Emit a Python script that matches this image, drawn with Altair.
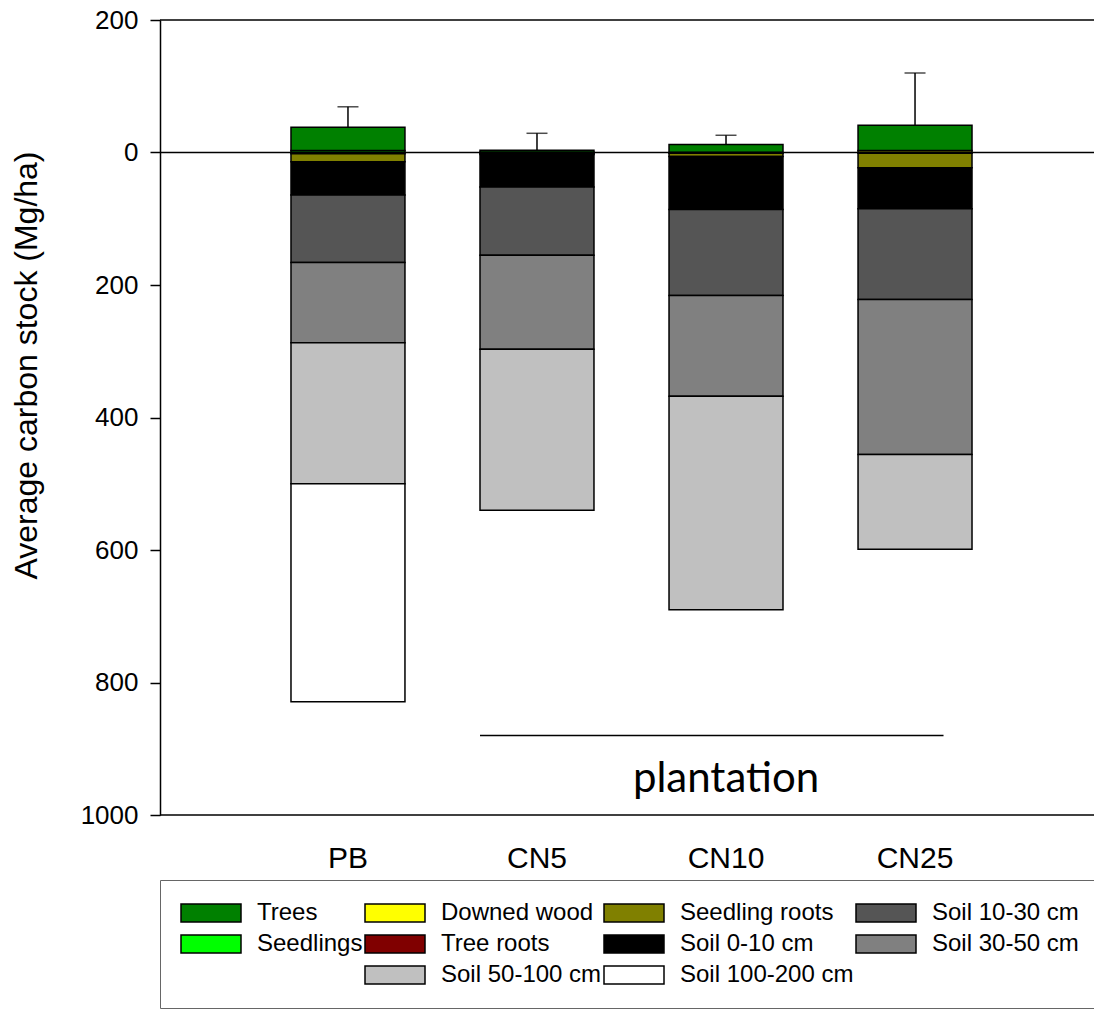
import altair as alt
import pandas as pd

categories = ["PB", "CN5", "CN10", "CN25"]
# above-ground pools (stacked upward from 0), bottom -> top
downed_wood = [0, 0.5, 0, 3]
seedlings = [3, 0, 0, 0]
trees = [35, 3, 12, 38]
# below-ground pools (stacked downward from 0), top -> bottom
tree_roots = [2, 1, 1, 1]
seedling_roots = [12, 2, 5, 22]
soil_0_10 = [50, 49, 80, 62]
soil_10_30 = [102, 103, 130, 137]
soil_30_50 = [121, 142, 152, 234]
soil_50_100 = [213, 243, 322, 143]
soil_100_200 = [329, 0, 0, 0]
# upper error of above-ground total
error_up = [31, 25.5, 14, 79]

y_ticks = [200, 0, -200, -400, -600, -800, -1000]

above = [("Downed wood", downed_wood), ("Seedlings", seedlings), ("Trees", trees)]
below = [("Tree roots", tree_roots), ("Seedling roots", seedling_roots),
         ("Soil 0-10 cm", soil_0_10), ("Soil 10-30 cm", soil_10_30),
         ("Soil 30-50 cm", soil_30_50), ("Soil 50-100 cm", soil_50_100),
         ("Soil 100-200 cm", soil_100_200)]

rows = []
err_rows = []
for i, c in enumerate(categories):
    acc = 0.0
    for name, vals in above:
        v = vals[i]
        if v > 0:
            rows.append({"cat": c, "comp": name, "y0": acc, "y1": acc + v})
            acc += v
    err_rows.append({"cat": c, "top": acc, "hi": acc + error_up[i]})
    acc = 0.0
    for name, vals in below:
        v = vals[i]
        if v > 0:
            rows.append({"cat": c, "comp": name, "y0": -acc, "y1": -(acc + v)})
            acc += v
df = pd.DataFrame(rows)
err = pd.DataFrame(err_rows)

# legend entries, column by column (blank "_" entries keep empty slots)
legend_order = ["Trees", "Seedlings", "_a",
                "Downed wood", "Tree roots", "Soil 50-100 cm",
                "Seedling roots", "Soil 0-10 cm", "Soil 100-200 cm",
                "Soil 10-30 cm", "Soil 30-50 cm", "_b"]
legend_colors = ["#008000", "#00ff00", "#ffffff",
                 "#ffff00", "#800000", "#c0c0c0",
                 "#808000", "#000000", "#ffffff",
                 "#555555", "#808080", "#ffffff"]
outline_colors = ["#000000", "#000000", "#ffffff",
                  "#000000", "#000000", "#000000",
                  "#000000", "#000000", "#000000",
                  "#000000", "#000000", "#ffffff"]

xscale = alt.Scale(domain=categories, range=[0, 943], paddingInner=0.397, paddingOuter=0.693)
yscale = alt.Scale(domain=[-1000, 200], nice=False, zero=False)

x_axis = alt.Axis(title=None, domain=False, ticks=False, labelAngle=0,
                  labelFont="Liberation Sans", labelFontSize=30,
                  labelColor="black", labelPadding=28, grid=False)
y_axis = alt.Axis(values=y_ticks, labelExpr="format(abs(datum.value), 'd')",
                  title="Average carbon stock (Mg/ha)",
                  titleFont="Liberation Sans", titleFontSize=32,
                  titleFontWeight="normal", titleColor="black",
                  titleAngle=270, titleX=-124, titleY=345,
                  titleAlign="center", titleBaseline="alphabetic",
                  labelFont="Liberation Sans", labelFontSize=26,
                  labelColor="black", labelPadding=12,
                  domainColor="black", domainWidth=1.5,
                  tickColor="black", tickWidth=1.5, tickSize=10,
                  grid=False)


def make_legend():
    return alt.Legend(
        title=None, orient="none", legendX=0, legendY=860,
        columns=4, columnPadding=1, rowPadding=5, clipHeight=26,
        symbolType="M-1,-0.3H1V0.3H-1Z", symbolSize=3600,
        symbolStrokeWidth=1.5,
        labelFont="Liberation Sans", labelFontSize=24,
        labelColor="black", labelOffset=15, labelLimit=400,
        padding=20, strokeColor="#666666",
        labelExpr="indexof(datum.label, '_') === 0 ? '' : datum.label")


bars = alt.Chart(df).mark_bar(strokeWidth=1.5).encode(
    x=alt.X("cat:N", scale=xscale, sort=categories, axis=x_axis),
    y=alt.Y("y0:Q", scale=yscale, axis=y_axis),
    y2="y1:Q",
    fill=alt.Fill("comp:N", scale=alt.Scale(domain=legend_order, range=legend_colors),
                  legend=make_legend()),
    stroke=alt.Stroke("comp:N", scale=alt.Scale(domain=legend_order, range=outline_colors),
                      legend=make_legend()),
)

zero = alt.Chart(pd.DataFrame({"y": [0]})).mark_rule(color="black", strokeWidth=1.5).encode(
    y=alt.Y("y:Q", scale=yscale, axis=y_axis))

frame = alt.Chart(pd.DataFrame({"y": [200, -1000]})).mark_rule(color="black", strokeWidth=1.5).encode(
    y=alt.Y("y:Q", scale=yscale, axis=y_axis))

err_line = alt.Chart(err).mark_rule(color="black", strokeWidth=1.5).encode(
    x=alt.X("cat:N", scale=xscale, sort=categories, axis=x_axis),
    y=alt.Y("top:Q", scale=yscale, axis=y_axis),
    y2="hi:Q")
err_cap = alt.Chart(err).mark_tick(color="black", size=21, thickness=1.5).encode(
    x=alt.X("cat:N", scale=xscale, sort=categories, axis=x_axis),
    y=alt.Y("hi:Q", scale=yscale, axis=y_axis))

group = pd.DataFrame({"start": ["CN5"], "end": ["CN25"], "mid": ["CN10"],
                      "line_y": [-880], "text_y": [-945], "label": ["plantation"]})
group_line = alt.Chart(group).mark_rule(color="black", strokeWidth=1.5).encode(
    x=alt.X("start:N", scale=xscale, sort=categories, bandPosition=0, axis=x_axis),
    x2=alt.X2("end:N", bandPosition=0.75),
    y=alt.Y("line_y:Q", scale=yscale, axis=y_axis))
group_text = alt.Chart(group).mark_text(font="Lato", fontSize=42, color="black",
                                        baseline="middle", align="center").encode(
    x=alt.X("mid:N", scale=xscale, sort=categories, axis=x_axis),
    y=alt.Y("text_y:Q", scale=yscale, axis=y_axis),
    text="label:N")

chart = alt.layer(bars, zero, frame, err_line, err_cap, group_line, group_text).properties(
    width=934, height=795,
    autosize=alt.AutoSizeParams(type="none"),
    padding={"left": 160, "top": 20, "right": 0, "bottom": 197},
    background="white",
).configure_view(stroke=None)

chart.save("out.html", embed_options={"renderer": "svg", "actions": False})
